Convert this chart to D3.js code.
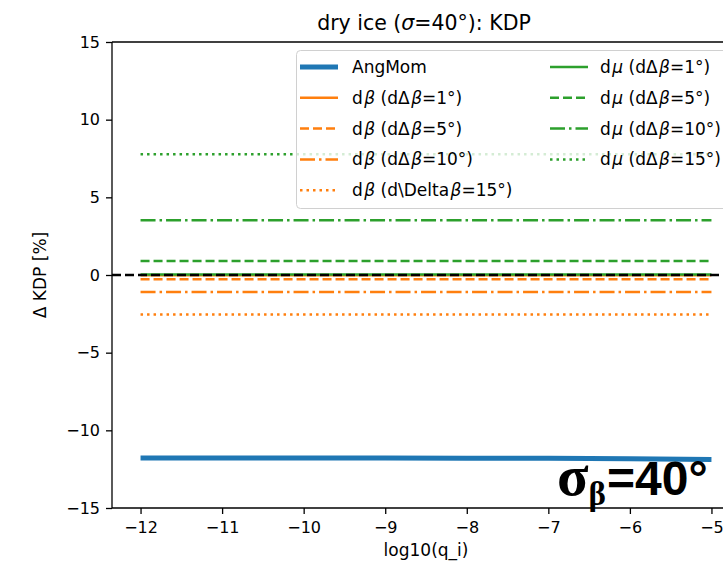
<!DOCTYPE html>
<html><head><meta charset="utf-8">
<script src="https://cdn.jsdelivr.net/npm/d3@7"></script>
<style>body{margin:0;background:#fff;} svg{display:block;font-family:"DejaVu Sans",sans-serif;}</style>
</head><body>
<svg id="chart" width="723" height="562"></svg>
<script>
const xs = [-12, -11, -10, -9, -8, -7, -6, -5];
const angMom = [-11.78, -11.78, -11.78, -11.78, -11.79, -11.80, -11.83, -11.88];
const dBeta1 = [-0.02, -0.02, -0.02, -0.02, -0.02, -0.02, -0.02, -0.02];
const dBeta5 = [-0.27, -0.27, -0.27, -0.27, -0.27, -0.27, -0.27, -0.27];
const dBeta10 = [-1.1, -1.1, -1.1, -1.1, -1.1, -1.1, -1.1, -1.1];
const dBeta15 = [-2.55, -2.55, -2.55, -2.55, -2.55, -2.55, -2.55, -2.55];
const dMu1 = [0.03, 0.03, 0.03, 0.03, 0.03, 0.03, 0.03, 0.03];
const dMu5 = [0.9, 0.9, 0.9, 0.9, 0.9, 0.9, 0.9, 0.9];
const dMu10 = [3.52, 3.52, 3.52, 3.52, 3.52, 3.52, 3.52, 3.52];
const dMu15 = [7.77, 7.77, 7.77, 7.77, 7.77, 7.77, 7.77, 7.77];
const xTicks = [-12, -11, -10, -9, -8, -7, -6, -5];
const yTicks = [-15, -10, -5, 0, 5, 10, 15];

const svg = d3.select("#chart");
const L = 112, R = 740, T = 42, B = 508;
const x = d3.scaleLinear().domain([-12.35, -4.65]).range([L, R]);
const y = d3.scaleLinear().domain([-15, 15]).range([B, T]);

const blue = "#1f77b4", orange = "#ff7f0e", green = "#2ca02c";
const dash = {solid: null, dashed: "9,4", dashdot: "15,4,2.5,4", dotted: "2.5,4"};

const series = [
  {vals: angMom, color: blue, w: 5, d: "solid"},
  {vals: dBeta1, color: orange, w: 2.5, d: "solid"},
  {vals: dBeta5, color: orange, w: 2.5, d: "dashed"},
  {vals: dBeta10, color: orange, w: 2.5, d: "dashdot"},
  {vals: dBeta15, color: orange, w: 2.5, d: "dotted"},
  {vals: dMu1, color: green, w: 2.5, d: "solid"},
  {vals: dMu5, color: green, w: 2.5, d: "dashed"},
  {vals: dMu10, color: green, w: 2.5, d: "dashdot"},
  {vals: dMu15, color: green, w: 2.5, d: "dotted"}
];

const line = d3.line().x(d => x(d[0])).y(d => y(d[1]));
const g = svg.append("g");
series.forEach(s => {
  g.append("path")
    .attr("d", line(xs.map((v, i) => [v, s.vals[i]])))
    .attr("fill", "none")
    .attr("stroke", s.color)
    .attr("stroke-width", s.w)
    .attr("stroke-dasharray", dash[s.d]);
});
// zero line
g.append("line").attr("x1", L).attr("x2", R).attr("y1", y(0)).attr("y2", y(0))
  .attr("stroke", "#000").attr("stroke-width", 2.5).attr("stroke-dasharray", "9,4");

// axes
const fmt = d => d3.format("d")(d).replace("-", "\u2212");
const xAxis = d3.axisBottom(x).tickValues(xTicks).tickSize(6).tickPadding(8).tickFormat(fmt);
const yAxis = d3.axisLeft(y).tickValues(yTicks).tickSize(6).tickPadding(6).tickFormat(fmt);
const gx = svg.append("g").attr("transform", `translate(0,${B})`).call(xAxis);
const gy = svg.append("g").attr("transform", `translate(${L},0)`).call(yAxis);
[gx, gy].forEach(a => {
  a.select(".domain").remove();
  a.selectAll("line").attr("stroke", "#000").attr("stroke-width", 1.3);
  a.selectAll("text").attr("font-size", 16).attr("font-family", "DejaVu Sans").attr("fill", "#000");
});
// spines
[[L, T, L, B], [L, B, R, B], [L, T, R, T], [R, T, R, B]].forEach(c => {
  svg.append("line").attr("x1", c[0]).attr("y1", c[1]).attr("x2", c[2]).attr("y2", c[3])
    .attr("stroke", "#000").attr("stroke-width", 1.3);
});

// title & labels
const title = svg.append("text").attr("x", (L + R) / 2 - 2).attr("y", 30).attr("text-anchor", "middle")
  .attr("font-size", 20.5);
title.append("tspan").text("dry ice (");
title.append("tspan").attr("font-style", "italic").text("\u03c3");
title.append("tspan").text("=40\u00b0): KDP");
svg.append("text").attr("x", (L + R) / 2).attr("y", 556).attr("text-anchor", "middle")
  .attr("font-size", 17).text("log10(q_i)");
svg.append("text").attr("transform", `translate(46,${y(0)}) rotate(-90)`).attr("text-anchor", "middle")
  .attr("font-size", 17).text("\u0394 KDP [%]");

// legend
const legItems = [
  {label: ["AngMom"], s: series[0]},
  {label: ["d", "β", " (dΔ", "β", "=1°)"], s: series[1]},
  {label: ["d", "β", " (dΔ", "β", "=5°)"], s: series[2]},
  {label: ["d", "β", " (dΔ", "β", "=10°)"], s: series[3]},
  {label: ["d", "β", " (d\\Delta", "β", "=15°)"], s: series[4]},
  {label: ["d", "μ", " (dΔ", "β", "=1°)"], s: series[5]},
  {label: ["d", "μ", " (dΔ", "β", "=5°)"], s: series[6]},
  {label: ["d", "μ", " (dΔ", "β", "=10°)"], s: series[7]},
  {label: ["d", "μ", " (dΔ", "β", "=15°)"], s: series[8]}
];
const lg = svg.append("g");
lg.append("rect").attr("x", 296.5).attr("y", 50.5).attr("width", 440).attr("height", 158)
  .attr("rx", 4).attr("fill", "#fff").attr("fill-opacity", 0.8).attr("stroke", "#d0d0d0").attr("stroke-width", 1);
legItems.forEach((it, i) => {
  const col = i < 5 ? 0 : 1;
  const row = i < 5 ? i : i - 5;
  const hx = col === 0 ? 300 : 550;
  const tx = col === 0 ? 352 : 600;
  const yy = 67 + row * 30.8;
  lg.append("line").attr("x1", hx).attr("x2", hx + 38).attr("y1", yy).attr("y2", yy)
    .attr("stroke", it.s.color).attr("stroke-width", it.s.w).attr("stroke-dasharray", dash[it.s.d]);
  const t = lg.append("text").attr("x", tx).attr("y", yy + 6).attr("font-size", 17);
  it.label.forEach(p => {
    const ts = t.append("tspan").text(p);
    if (p === "β" || p === "μ") ts.attr("font-style", "italic").attr("dx", 1.5);
  });
});

// annotation
const ann = svg.append("text").attr("x", 557).attr("y", 495).attr("font-weight", "bold").attr("fill", "#000");
ann.append("tspan").attr("font-family", "Liberation Serif").attr("font-size", 58).text("σ");
ann.append("tspan").attr("font-family", "Liberation Serif").attr("font-size", 33).attr("dy", 10).text("β");
ann.append("tspan").attr("font-family", "Liberation Sans").attr("font-size", 48).attr("dy", -10).attr("dx", 1).text("=40°");
</script>
</body></html>
